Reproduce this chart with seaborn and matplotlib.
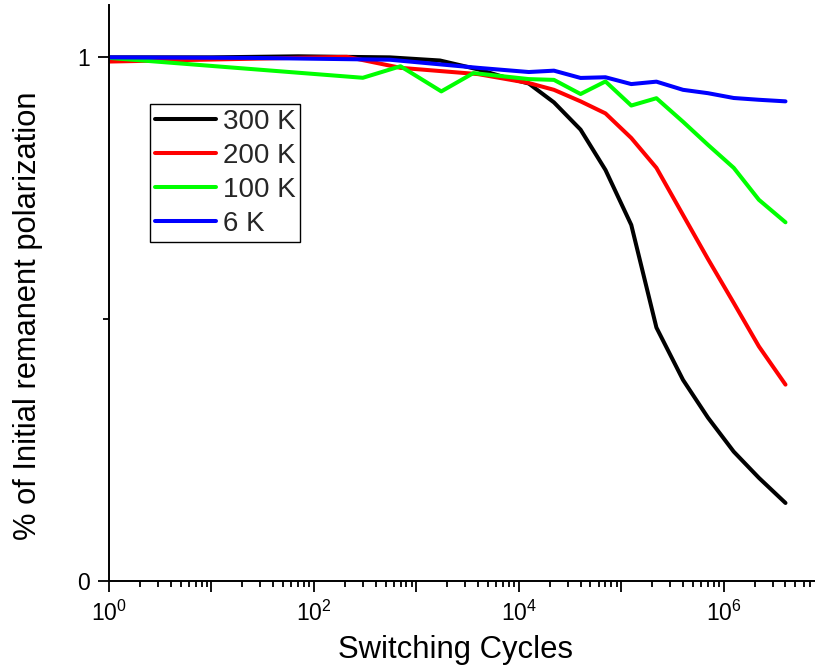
import matplotlib
matplotlib.use("Agg")
import matplotlib.pyplot as plt
from matplotlib.ticker import FixedLocator, FuncFormatter, LogLocator, NullFormatter
import numpy as np
import pandas as pd
import seaborn as sns

# Fatigue data: fraction of the initial remanent polarization vs. switching cycles
series_names = ["300 K", "200 K", "100 K", "6 K"]
series_colors = ["#000000", "#ff0000", "#00ff00", "#0000ff"]

cycles_300k = [1, 10, 70, 550, 1700, 4000, 7000, 12500, 22000, 40000, 70000,
               125000, 220000, 400000, 700000, 1250000, 2200000, 4000000]
pol_300k = [1.0, 1.0, 1.002, 1.0, 0.994, 0.977, 0.963, 0.950, 0.914, 0.862, 0.785,
            0.680, 0.484, 0.384, 0.312, 0.247, 0.197, 0.149]

cycles_200k = [1, 210, 700, 4000, 12500, 22000, 40000, 70000, 125000, 220000,
               400000, 700000, 1250000, 2200000, 4000000]
pol_200k = [0.992, 1.001, 0.980, 0.968, 0.951, 0.938, 0.916, 0.893, 0.846, 0.789,
            0.699, 0.615, 0.531, 0.448, 0.375]

cycles_100k = [1, 300, 700, 1750, 3600, 12500, 22000, 40000, 70000, 125000, 220000,
               400000, 700000, 1250000, 2200000, 4000000]
pol_100k = [0.999, 0.961, 0.983, 0.935, 0.970, 0.9585, 0.957, 0.930, 0.954, 0.908,
            0.922, 0.877, 0.833, 0.789, 0.728, 0.685]

cycles_6k = [1, 24, 550, 4000, 12500, 22000, 40000, 70000, 125000, 220000, 400000,
             700000, 1250000, 2200000, 4000000]
pol_6k = [1.0, 0.999, 0.9955, 0.980, 0.972, 0.9746, 0.9607, 0.962, 0.949, 0.9536,
          0.938, 0.9316, 0.9224, 0.919, 0.916]

x_label = "Switching Cycles"
y_label = "% of Initial remanent polarization"
y_major_ticks = [0, 1]
y_major_labels = ["0", "1"]
y_minor_ticks = [0.5]

frames = []
for name, xs, ys in zip(series_names,
                        [cycles_300k, cycles_200k, cycles_100k, cycles_6k],
                        [pol_300k, pol_200k, pol_100k, pol_6k]):
    frames.append(pd.DataFrame({"cycles": xs, "polarization": ys, "T": name}))
data = pd.concat(frames, ignore_index=True)

sns.set_style("ticks")
plt.rcParams["font.family"] = ["Liberation Sans", "DejaVu Sans"]
plt.rcParams["mathtext.fontset"] = "custom"
plt.rcParams["mathtext.rm"] = "Liberation Sans"
plt.rcParams["mathtext.it"] = "Liberation Sans:italic"
plt.rcParams["mathtext.bf"] = "Liberation Sans:bold"

fig = plt.figure(figsize=(8.15, 6.72), dpi=100)
ax = fig.add_axes([109 / 815, 91 / 672, 706 / 815, 576 / 672])

sns.lineplot(data=data, x="cycles", y="polarization", hue="T",
             hue_order=series_names, palette=dict(zip(series_names, series_colors)),
             estimator=None, sort=False, linewidth=2.9, ax=ax)

ax.set_xscale("log")
ax.set_xlim(1, 10 ** 6.89)
ax.set_ylim(0, 1.1)

# x axis: a major tick every decade, labels on even powers only
ax.xaxis.set_major_locator(FixedLocator([10.0 ** k for k in range(0, 8)]))
ax.xaxis.set_major_formatter(FuncFormatter(
    lambda v, pos: "$10^{%d}$" % round(np.log10(v)) if round(np.log10(v)) % 2 == 0 else ""))
ax.xaxis.set_minor_locator(LogLocator(base=10, subs=np.arange(2, 10), numticks=20))
ax.xaxis.set_minor_formatter(NullFormatter())

ax.yaxis.set_major_locator(FixedLocator(y_major_ticks))
ax.set_yticklabels(y_major_labels)
ax.yaxis.set_minor_locator(FixedLocator(y_minor_ticks))

for side in ["top", "right"]:
    ax.spines[side].set_visible(False)
for side in ["left", "bottom"]:
    ax.spines[side].set_linewidth(1.4)
    ax.spines[side].set_color("black")

ax.tick_params(which="major", direction="out", length=8, width=1.3, color="black",
               labelsize=16.5, labelcolor="black", pad=6)
ax.tick_params(which="minor", direction="out", length=4, width=1.3, color="black")

ax.set_xlabel(x_label, fontsize=22.3, color="black", va="center")
ax.set_ylabel(y_label, fontsize=22.2, color="black", va="center")
ax.xaxis.set_label_coords((455 - 109) / 706, (581 - 650) / 576)
ax.yaxis.set_label_coords((28 - 109) / 706, (581 - 316) / 576)

handles, labels = ax.get_legend_handles_labels()
leg = ax.legend(handles, labels, loc="upper left",
                bbox_to_anchor=(150 / 815, 1 - 104 / 672), bbox_transform=fig.transFigure,
                frameon=True, fancybox=False, framealpha=1, edgecolor="black",
                fontsize=20, handlelength=2.2, handletextpad=0.25,
                labelspacing=0.29, borderpad=0.17, borderaxespad=0)
leg.get_frame().set_linewidth(1.0)
for line in leg.get_lines():
    line.set_linewidth(2.9)

fig.savefig("out.png", dpi=100)
